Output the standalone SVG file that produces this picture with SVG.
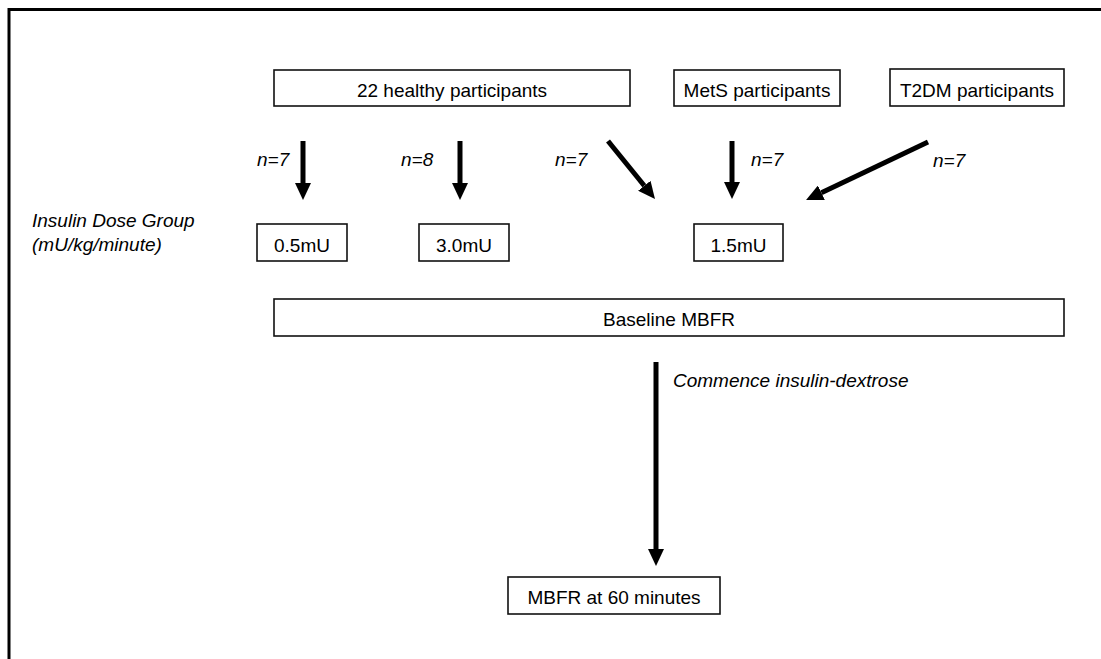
<svg xmlns="http://www.w3.org/2000/svg" width="1101" height="659" viewBox="0 0 1101 659">
  <style>
    .box { fill: #ffffff; stroke: #111111; stroke-width: 1.6; }
    .t { font-family: "Liberation Sans", Arial, sans-serif; font-size: 19px; fill: #000000; text-anchor: middle; }
    .it { font-family: "Liberation Sans", Arial, sans-serif; font-size: 19px; font-style: italic; fill: #000000; }
    .conn { stroke: #000000; stroke-width: 5; fill: none; marker-end: url(#head); }
  </style>
  <defs>
    <marker id="head" markerUnits="userSpaceOnUse" viewBox="0 0 17 16" refX="0" refY="8" markerWidth="17" markerHeight="16" orient="auto">
      <path d="M0,0 L17,8 L0,16 Z" fill="#000000"/>
    </marker>
  </defs>
  <rect x="0" y="0" width="1101" height="659" fill="#ffffff"/>
  <path d="M9,659 V9.5 H1101" fill="none" stroke="#000000" stroke-width="3"/>

  <g id="healthy">
    <rect class="box" x="274" y="70" width="356" height="36"/>
    <text class="t" x="452" y="97">22 healthy participants</text>
  </g>
  <g id="mets">
    <rect class="box" x="674" y="70" width="166" height="36"/>
    <text class="t" x="757" y="97">MetS participants</text>
  </g>
  <g id="t2dm">
    <rect class="box" x="890" y="69" width="174" height="37"/>
    <text class="t" x="977" y="97">T2DM participants</text>
  </g>
  <g id="dose-label">
    <text class="it" x="32" y="227">Insulin Dose Group</text>
    <text class="it" x="32" y="251">(mU/kg/minute)</text>
  </g>
  <g id="dose05">
    <rect class="box" x="257" y="224" width="90" height="37"/>
    <text class="t" x="302" y="252">0.5mU</text>
  </g>
  <g id="dose30">
    <rect class="box" x="419" y="224" width="90" height="37"/>
    <text class="t" x="464" y="252">3.0mU</text>
  </g>
  <g id="dose15">
    <rect class="box" x="694" y="224" width="89" height="37"/>
    <text class="t" x="738.5" y="252">1.5mU</text>
  </g>
  <g id="baseline">
    <rect class="box" x="274" y="299" width="790" height="37"/>
    <text class="t" x="669" y="326">Baseline MBFR</text>
  </g>
  <g id="mbfr60">
    <rect class="box" x="508" y="577" width="212" height="37"/>
    <text class="t" x="614" y="604">MBFR at 60 minutes</text>
  </g>

  <g id="connectors">
    <line class="conn" x1="303" y1="141" x2="303" y2="183"/>
    <line class="conn" x1="460" y1="141" x2="460" y2="183"/>
    <line class="conn" x1="608" y1="141" x2="644.3" y2="185.8"/>
    <line class="conn" x1="732" y1="141" x2="732" y2="182"/>
    <line class="conn" x1="928" y1="142" x2="821.4" y2="192.7"/>
    <line class="conn" x1="656" y1="362" x2="656" y2="549"/>
    <text class="it" x="257" y="166">n=7</text>
    <text class="it" x="401" y="166">n=8</text>
    <text class="it" x="555" y="166">n=7</text>
    <text class="it" x="751" y="166">n=7</text>
    <text class="it" x="933" y="167">n=7</text>
    <text class="it" x="673" y="387">Commence insulin-dextrose</text>
  </g>
</svg>
